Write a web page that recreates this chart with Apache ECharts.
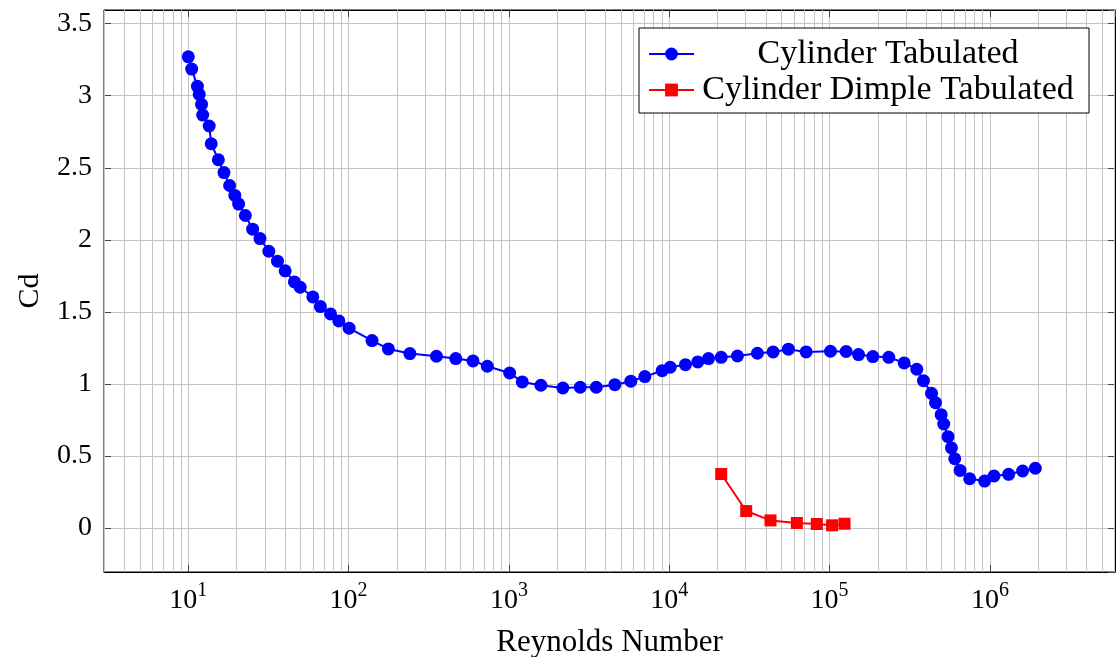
<!DOCTYPE html>
<html><head><meta charset="utf-8">
<script src="https://cdn.jsdelivr.net/npm/echarts@6/dist/echarts.min.js"></script>
<style>html,body{margin:0;padding:0;background:#fff}#c{width:1117px;height:657px}</style>
</head><body><div id="c"></div>
<script>
// ---- data ----
const seriesNames = ['Cylinder Tabulated', 'Cylinder Dimple Tabulated'];
const xName = 'Reynolds Number';
const yName = 'Cd';
const reCyl = [10, 10.5, 11.4, 11.7, 12.1, 12.3, 13.5, 13.9, 15.4, 16.7, 18.1, 19.5, 20.6, 22.7, 25.2, 28, 31.8, 36, 40.2, 45.9, 49.9, 59.8, 66.7, 77.1, 86.9, 100.7, 140, 177, 241, 353, 466, 597, 733, 1010, 1211, 1582, 2170, 2784, 3505, 4578, 5760, 7044, 9030, 10140, 12620, 15060, 17570, 21090, 26630, 35470, 44440, 55370, 71400, 101300, 126900, 151600, 186200, 234000, 291700, 349900, 385200, 432300, 457900, 496600, 515200, 548200, 575400, 603600, 651800, 748000, 927000, 1061000, 1309000, 1600000, 1920000];
const cdCyl = [3.27, 3.185, 3.065, 3.01, 2.94, 2.866, 2.79, 2.667, 2.556, 2.467, 2.377, 2.308, 2.248, 2.169, 2.074, 2.009, 1.921, 1.852, 1.785, 1.708, 1.671, 1.604, 1.537, 1.486, 1.4375, 1.387, 1.301, 1.243, 1.211, 1.192, 1.176, 1.16, 1.123, 1.076, 1.014, 0.991, 0.972, 0.977, 0.977, 0.995, 1.019, 1.051, 1.092, 1.116, 1.134, 1.153, 1.176, 1.185, 1.194, 1.213, 1.222, 1.241, 1.222, 1.227, 1.225, 1.204, 1.19, 1.185, 1.146, 1.102, 1.023, 0.935, 0.87, 0.787, 0.722, 0.634, 0.556, 0.481, 0.40, 0.342, 0.326, 0.361, 0.373, 0.396, 0.415];
const reDimple = [21090, 30200, 42800, 62500, 83200, 103700, 123900];
const cdDimple = [0.375, 0.118, 0.053, 0.035, 0.028, 0.019, 0.03];
const xMin = 2.98, xMax = 6.03e6;
const yMin = -0.305, yMax = 3.595;

const FONT = 'Liberation Serif, serif';
const GRID = '#c4c4c4';
const TICK = { show: true, inside: true, length: 7, lineStyle: { color: '#444', width: 1 } };

// minor log grid lines (2..9 x 10^k) placed through the axis scale
const minorGrid = [];
for (let k = 0; k <= 6; k++) {
  for (let m = 2; m <= 9; m++) {
    const v = m * Math.pow(10, k);
    if (v > xMin && v < xMax) minorGrid.push({ xAxis: v });
  }
}

const chart = echarts.init(document.getElementById('c'), null, { renderer: 'canvas' });
const xLabelFmt = function (v) {
  const e = Math.log10(v), r = Math.round(e);
  if (Math.abs(e - r) > 1e-6) return '';
  return '{b|10}{s|' + r + '}';
};
chart.setOption({
  animation: false,
  backgroundColor: '#fff',
  grid: { left: 104, right: 2, top: 10, bottom: 85, containLabel: false, outerBoundsMode: 'none', show: true, borderColor: '#000', borderWidth: 1, backgroundColor: 'transparent' },
  legend: {
    orient: 'vertical', left: 639, top: 28,
    padding: [9, 15, 6, 9], itemGap: 2, itemWidth: 45, itemHeight: 16,
    backgroundColor: '#fff', borderColor: '#000', borderWidth: 1, borderRadius: 0,
    selectedMode: false,
    data: seriesNames,
    formatter: function (n) { return '{t|' + n + '}'; },
    textStyle: { rich: { t: { width: 372, padding: [0, 0, 0, 3], align: 'center', fontSize: 34, lineHeight: 36, fontFamily: FONT, color: '#000' } } }
  },
  xAxis: [{
    type: 'log', logBase: 10, min: xMin, max: xMax, position: 'bottom',
    axisLine: { show: true, onZero: false, lineStyle: { color: '#000', width: 1 } },
    axisTick: TICK,
    splitLine: { show: true, lineStyle: { color: GRID, width: 1 } },
    axisLabel: {
      margin: 9, showMinLabel: false, showMaxLabel: false, formatter: xLabelFmt,
      rich: {
        b: { fontSize: 28, fontFamily: FONT, color: '#000', verticalAlign: 'bottom', padding: [6, 0, 0, 0] },
        s: { fontSize: 20, fontFamily: FONT, color: '#000', verticalAlign: 'top' }
      }
    },
    name: xName, nameLocation: 'middle', nameGap: 55,
    nameTextStyle: { fontSize: 31, fontFamily: FONT, color: '#000' }
  }, {
    type: 'log', logBase: 10, min: xMin, max: xMax, position: 'top',
    axisLine: { show: true, onZero: false, lineStyle: { color: '#000', width: 1 } },
    axisTick: TICK,
    splitLine: { show: false }, axisLabel: { show: false }
  }],
  yAxis: [{
    type: 'value', min: yMin, max: yMax, splitNumber: 8, position: 'left',
    axisLine: { show: true, onZero: false, lineStyle: { color: '#000', width: 1 } },
    axisTick: TICK,
    splitLine: { show: true, lineStyle: { color: GRID, width: 1 } },
    axisLabel: { margin: 12, showMinLabel: false, showMaxLabel: false, fontSize: 28, fontFamily: FONT, color: '#000' },
    name: yName, nameLocation: 'middle', nameGap: 59,
    nameTextStyle: { fontSize: 30, fontFamily: FONT, color: '#000' }
  }, {
    type: 'value', min: yMin, max: yMax, splitNumber: 8, position: 'right',
    axisLine: { show: true, onZero: false, lineStyle: { color: '#000', width: 1 } },
    axisTick: TICK,
    splitLine: { show: false }, axisLabel: { show: false }
  }],
  series: [{
    name: '__grid', type: 'line', data: [], z: 1, silent: true,
    markLine: {
      silent: true, animation: false, symbol: ['none', 'none'], z: 1,
      label: { show: false }, emphasis: { disabled: true },
      lineStyle: { color: GRID, type: 'solid', width: 1 },
      data: minorGrid
    }
  }, {
    name: seriesNames[0], type: 'line', z: 3,
    data: reCyl.map(function (x, i) { return [x, cdCyl[i]]; }),
    symbol: 'circle', symbolSize: 13,
    itemStyle: { color: '#0000ff' }, lineStyle: { color: '#0000ff', width: 2 }
  }, {
    name: seriesNames[1], type: 'line', z: 3,
    data: reDimple.map(function (x, i) { return [x, cdDimple[i]]; }),
    symbol: 'rect', symbolSize: 12,
    itemStyle: { color: '#ff0000' }, lineStyle: { color: '#ff0000', width: 2 }
  }]
});
</script>
</body></html>
